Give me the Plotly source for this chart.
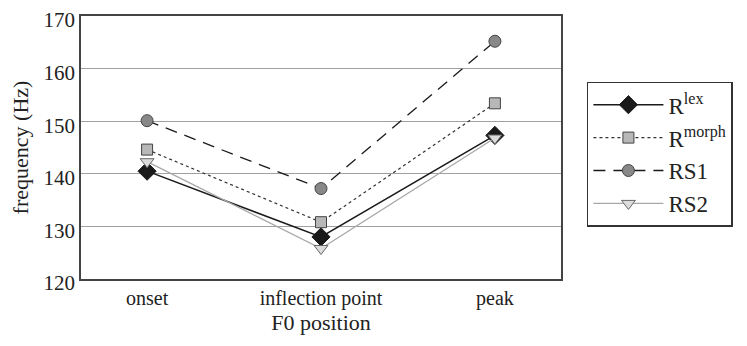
import plotly.graph_objects as go

categories = ["onset", "inflection point", "peak"]
r_lex = [140.5, 128.0, 147.3]
r_morph = [144.6, 130.8, 153.4]
rs1 = [150.1, 137.2, 165.2]
rs2 = [142.3, 125.8, 146.8]
y_ticks = [120, 130, 140, 150, 160, 170]

FONT = "'Liberation Serif', 'DejaVu Serif', serif"

fig = go.Figure()
fig.add_trace(go.Scatter(
    x=categories, y=r_lex, name="R<sup>lex</sup>", mode="lines+markers",
    line=dict(color="#1a1a1a", width=1.5, dash="solid"),
    marker=dict(symbol="diamond", size=14, color="#1a1a1a", line=dict(color="#1a1a1a", width=1)),
    legendgroup="a"))
fig.add_trace(go.Scatter(
    x=categories, y=r_morph, name="R<sup>morph</sup>", mode="lines+markers",
    line=dict(color="#333333", width=1.2, dash="dot"),
    marker=dict(symbol="square", size=11, color="#b8b8b8", line=dict(color="#444444", width=1)),
    legendgroup="b"))
fig.add_trace(go.Scatter(
    x=categories, y=rs1, name="RS1", mode="lines+markers",
    line=dict(color="#1a1a1a", width=1.3, dash="12px,8px"),
    marker=dict(symbol="circle", size=12, color="#888888", line=dict(color="#444444", width=1)),
    legendgroup="c"))
fig.add_trace(go.Scatter(
    x=categories, y=rs2, name="RS2", mode="lines+markers",
    line=dict(color="#a8a8a8", width=1.3, dash="solid"),
    marker=dict(symbol="triangle-down", size=12, color="#dcdcdc", line=dict(color="#666666", width=1)),
    legendgroup="d"))

# the page body adds an 8px offset; the figure is sized to fill the rest
fig.update_layout(
    width=739, height=338,
    margin=dict(l=73, r=186, t=8, b=67, autoexpand=False),
    paper_bgcolor="white", plot_bgcolor="white",
    font=dict(family=FONT, size=19, color="#222222"),
    showlegend=True,
    legend=dict(
        x=1.054, xanchor="left", y=0.75, yanchor="top",
        bordercolor="#333333", borderwidth=1.5,
        font=dict(family=FONT, size=23, color="#222222"),
        tracegroupgap=0, itemwidth=70,
    ),
    xaxis=dict(
        type="category", range=[-0.38, 2.38], automargin=False,
        showline=True, linecolor="#444444", linewidth=1.5, mirror=True,
        showgrid=False, ticks="", zeroline=False, ticklabeloverflow="allow",
        tickfont=dict(family=FONT, size=20, color="#222222"),
        title=dict(text="F0 position", font=dict(family=FONT, size=22, color="#222222"), standoff=6),
    ),
    yaxis=dict(
        range=[120, 170], tickvals=y_ticks, automargin=False,
        showline=True, linecolor="#444444", linewidth=1.5, mirror=True,
        showgrid=True, gridcolor="#a0a0a0", gridwidth=1, ticks="", zeroline=False,
        ticklabeloverflow="allow", ticklabelshift=4,
        tickfont=dict(family=FONT, size=21, color="#222222"),
        title=dict(text="frequency (Hz)", font=dict(family=FONT, size=22, color="#222222"), standoff=10),
    ),
)

fig.write_html("out.html")
